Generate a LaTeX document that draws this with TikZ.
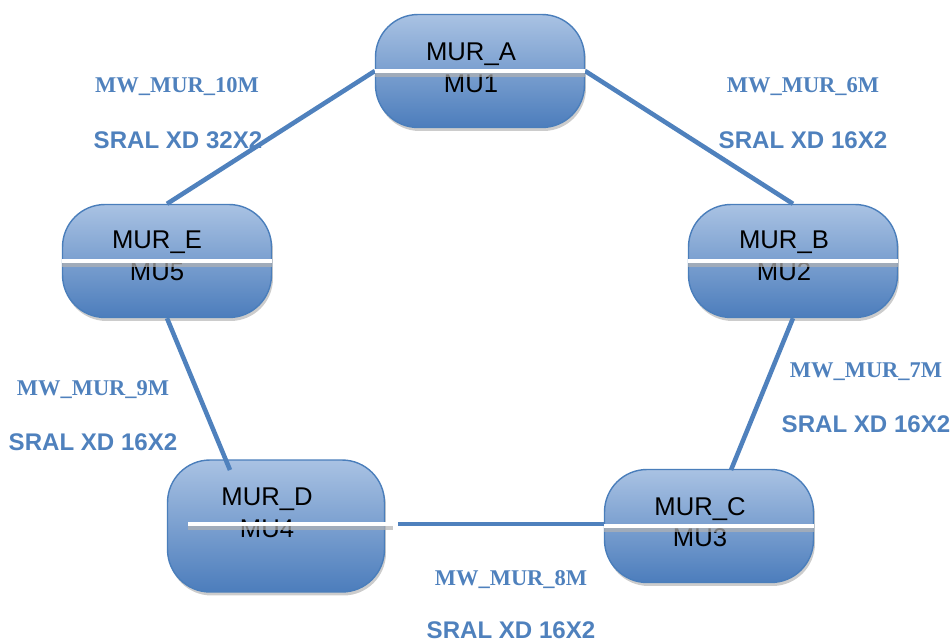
\documentclass[tikz,border=0pt]{standalone}
\usepackage{fontspec}
\setmainfont{Liberation Sans}
\newfontfamily\mwfont{Liberation Serif}
\usetikzlibrary{shadows}
\definecolor{murtop}{HTML}{A9C2E3}
\definecolor{murbot}{HTML}{4C7DBC}
\definecolor{murline}{HTML}{4A7EBB}
\definecolor{linkc}{HTML}{4F81BD}
\newcommand{\whitebar}[2]{\draw[black!30,opacity=.7,line width=2pt] ([yshift=-2.2pt]#1) -- ([yshift=-2.2pt]#2);\draw[white,line width=2.8pt] (#1) -- (#2);}

\begin{document}
\begin{tikzpicture}[x=0.02cm,y=-0.02cm,
  mur/.style={draw=murline,line width=0.8pt,rounded corners=0.85cm,top color=murtop,bottom color=murbot,
    minimum width=4.18cm,minimum height=2.26cm,
    drop shadow={shadow xshift=0.03cm,shadow yshift=-0.07cm,fill=black!40,opacity=.5}},
  murtext/.style={align=center,inner sep=0pt,font=\fontsize{14.6}{18}\selectfont},
  link/.style={linkc,line width=2.6pt},
  mw/.style={linkc,font=\mwfont\bfseries\fontsize{12.8}{15}\selectfont},
  sral/.style={linkc,font=\bfseries\fontsize{13.7}{15}\selectfont}]
\useasboundingbox (0,0) rectangle (951,642);
% link labels
\node[mw] (l10) at (177,87) {MW\_MUR\_10M};
\node[sral] (s10) at (178,140) {SRAL XD 32X2};
\node[mw] (l6) at (803,87) {MW\_MUR\_6M};
\node[sral] (s6) at (803,140) {SRAL XD 16X2};
\node[mw] (l9) at (93,390) {MW\_MUR\_9M};
\node[sral] (s9) at (93,442) {SRAL XD 16X2};
\node[mw] (l7) at (866,372) {MW\_MUR\_7M};
\node[sral] (s7) at (866,424) {SRAL XD 16X2};
\node[mw] (l8) at (511,580) {MW\_MUR\_8M};
\node[sral] (s8) at (511,630) {SRAL XD 16X2};
% MUR boxes
\node[mur] (ma) at (480,71) {};
\node[mur] (mb) at (793,261) {};
\node[mur] (mc) at (709,526) {};
\node[mur,minimum width=4.34cm,minimum height=2.64cm] (md) at (276,526) {};
\node[mur] (me) at (167,261) {};
\node[murtext] (ta) at ([shift={(-9,-3)}]ma) {MUR\_A\\MU1};
\node[murtext] (tb) at ([shift={(-9,-5)}]mb) {MUR\_B\\MU2};
\node[murtext] (tc) at ([shift={(-9,-4)}]mc) {MUR\_C\\MU3};
\node[murtext] (td) at ([shift={(-9,-13)}]md) {MUR\_D\\MU4};
\node[murtext] (te) at ([shift={(-10,-5)}]me) {MUR\_E\\MU5};
% links
\coordinate (de) at (230,470);
\coordinate (ce) at (731,470);
\coordinate (dc) at (398,524);
\draw[link] (ma.west) -- (me.north);
\draw[link] (ma.east) -- (mb.north);
\draw[link] (me.south) -- (de);
\draw[link] (mb.south) -- (ce);
\draw[link] (dc) -- (dc -| mc.west);
% white bars
\coordinate (dbl) at (188,524);
\coordinate (dbr) at (393,524);
\whitebar{ma.west}{ma.east}
\whitebar{mb.west}{mb.east}
\whitebar{mc.west}{mc.east}
\whitebar{me.west}{me.east}
\whitebar{dbl}{dbr}
\end{tikzpicture}
\end{document}
